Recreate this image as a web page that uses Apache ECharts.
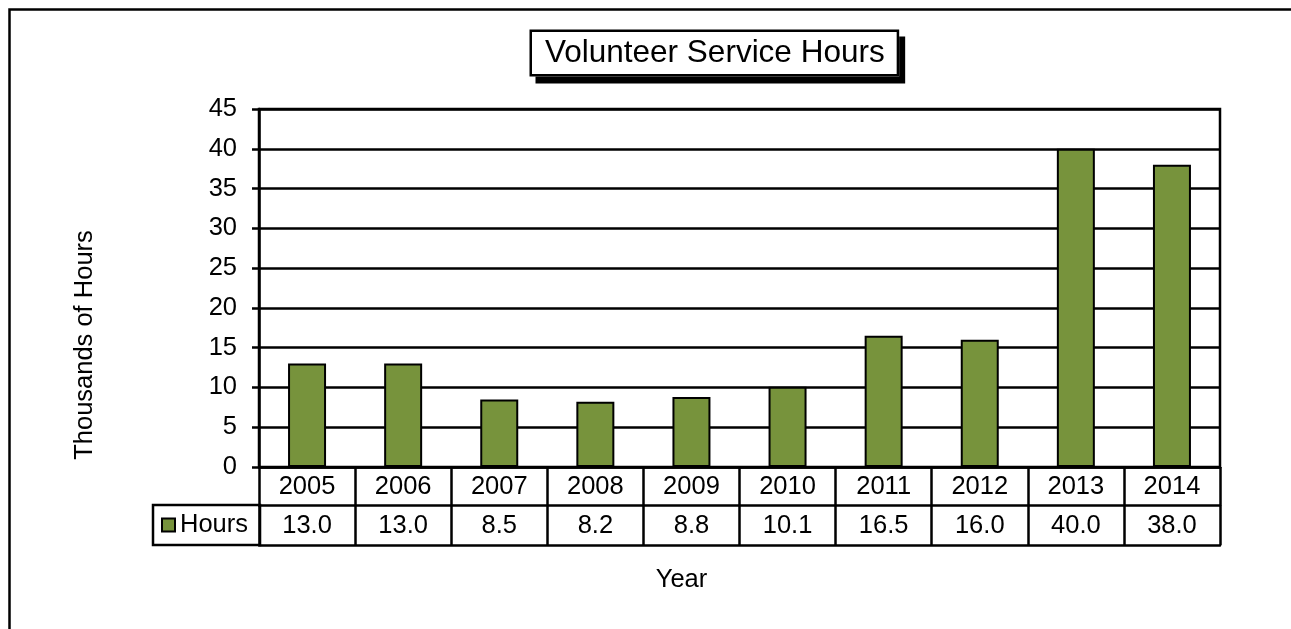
<!DOCTYPE html>
<html>
<head>
<meta charset="utf-8">
<script src="https://cdn.jsdelivr.net/npm/echarts@6/dist/echarts.min.js"></script>
<style>
html,body{margin:0;padding:0;background:#fff;}
#chart{width:1291px;height:629px;}
</style>
</head>
<body>
<div id="chart"></div>
<script>
const years = ['2005','2006','2007','2008','2009','2010','2011','2012','2013','2014'];
const hours = [13.0, 13.0, 8.5, 8.2, 8.8, 10.1, 16.5, 16.0, 40.0, 38.0];
const seriesName = 'Hours';
const chartTitle = 'Volunteer Service Hours';
const yAxisTitle = 'Thousands of Hours';
const xAxisTitle = 'Year';

const FONT = '"Liberation Sans", Arial, Helvetica, sans-serif';
const FS = 25.5;
const LW = 2.5;
const chart = echarts.init(document.getElementById('chart'), null, {renderer:'canvas'});

const blankAxis = (offset) => ({
  type: 'category', data: years, position: 'bottom', offset: offset,
  axisLine: {show: true, lineStyle: {color: '#000', width: LW}},
  axisTick: {show: false}, axisLabel: {show: false}, splitLine: {show: false}
});

chart.setOption({
  backgroundColor: '#fff',
  animation: false,
  textStyle: {fontFamily: FONT, color: '#000'},
  graphic: [{
    type: 'rect', left: 7, top: 7, silent: true,
    shape: {x: 0, y: 0, width: 1400, height: 800},
    style: {fill: 'none', stroke: '#000', lineWidth: LW}
  }],
  title: {
    text: '{b|' + chartTitle + '}',
    left: 532, top: 36,
    padding: 0,
    backgroundColor: '#fff',
    borderWidth: 0,
    shadowColor: '#000', shadowBlur: 0, shadowOffsetX: 6, shadowOffsetY: 7,
    textStyle: {
      fontFamily: FONT, fontSize: 31.5, fontWeight: 'normal', color: '#000',
      rich: {
        b: {
          fontFamily: FONT, fontSize: 31.5, color: '#000', lineHeight: 34,
          backgroundColor: '#fff', borderColor: '#000', borderWidth: LW, padding: [5, 12, 5, 13]
        }
      }
    }
  },
  legend: {
    data: [seriesName],
    left: 153, top: 505,
    orient: 'horizontal',
    padding: [7, 12, 7, 8],
    borderColor: '#000', borderWidth: LW,
    itemWidth: 13, itemHeight: 13,
    itemStyle: {borderColor: '#000', borderWidth: 2},
    textStyle: {fontFamily: FONT, fontSize: FS, color: '#000'},
    icon: 'rect'
  },
  grid: {
    left: 259, right: 71, top: 109, bottom: 162,
    show: true, borderColor: '#000', borderWidth: LW, containLabel: false
  },
  xAxis: [{
    type: 'category', data: years, position: 'bottom',
    name: xAxisTitle, nameLocation: 'middle', nameGap: 100,
    nameTextStyle: {fontFamily: FONT, fontSize: FS, color: '#000', padding: [0, 116, 0, 0]},
    axisLine: {show: true, lineStyle: {color: '#000', width: LW}},
    axisTick: {show: true, length: 78, inside: false, alignWithLabel: false, lineStyle: {color: '#000', width: LW}},
    axisLabel: {
      margin: 0, interval: 0,
      formatter: (v, i) => '{y|' + v + '}\n{v|' + hours[i].toFixed(1) + '}',
      rich: {
        y: {fontFamily: FONT, fontSize: FS, color: '#000', lineHeight: 39},
        v: {fontFamily: FONT, fontSize: FS, color: '#000', lineHeight: 40}
      }
    },
    splitLine: {show: false}
  }, blankAxis(38), blankAxis(78)],
  yAxis: {
    type: 'value', min: 0, max: 45, interval: 5,
    name: yAxisTitle, nameLocation: 'middle', nameGap: 161, nameRotate: 90,
    nameTextStyle: {fontFamily: FONT, fontSize: FS, color: '#000', padding: [0, 114, 0, 0]},
    axisLine: {show: true, lineStyle: {color: '#000', width: LW}},
    axisTick: {show: true, length: 7, inside: false, lineStyle: {color: '#000', width: LW}},
    axisLabel: {fontFamily: FONT, fontSize: FS, color: '#000', margin: 22},
    splitLine: {show: true, lineStyle: {color: '#000', width: LW}}
  },
  series: [{
    name: seriesName, type: 'bar', data: hours, xAxisIndex: 0,
    barWidth: 38,
    itemStyle: {color: '#77933C', borderColor: '#000', borderWidth: 2},
    z: 3
  }]
});
</script>
</body>
</html>
